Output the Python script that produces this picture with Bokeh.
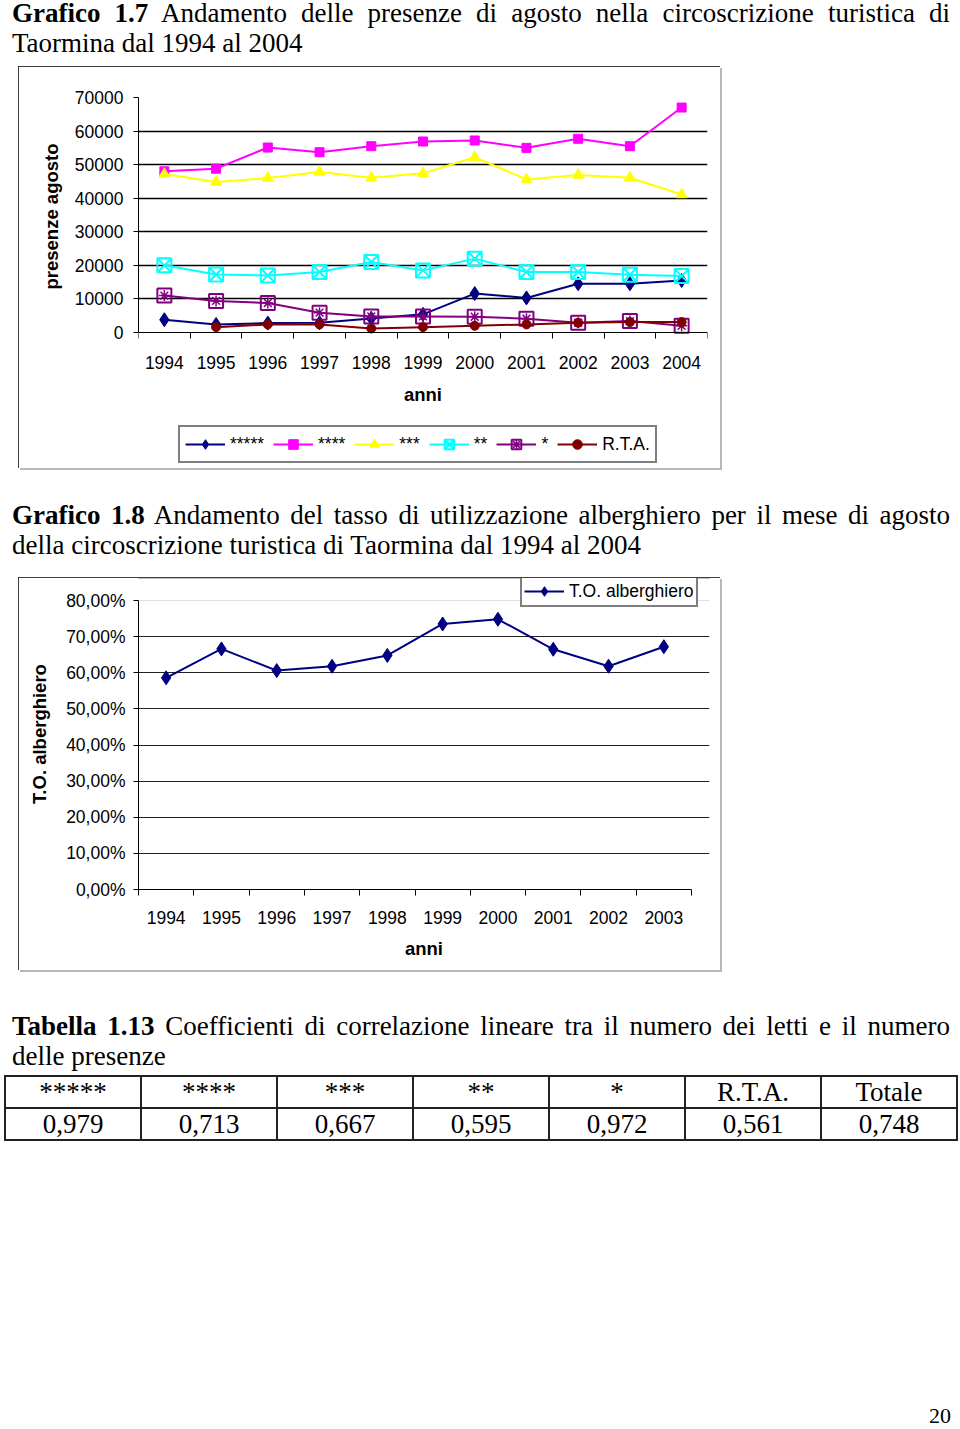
from bokeh.plotting import figure
from bokeh.models import Range1d, FixedTicker, Legend, LegendItem, Grid, Div, Spacer, Title
from bokeh.layouts import column, row
from bokeh.embed import file_html
from bokeh.resources import INLINE

# ---------------- data ----------------
years1 = [1994, 1995, 1996, 1997, 1998, 1999, 2000, 2001, 2002, 2003, 2004]
stelle5 = [3800, 2400, 2800, 2900, 4200, 5400, 11600, 10300, 14500, 14500, 15500]
stelle4 = [48000, 48800, 55100, 53700, 55500, 56900, 57200, 55000, 57700, 55500, 67000]
stelle3 = [47200, 44800, 46000, 47800, 46100, 47400, 52200, 45600, 46900, 46100, 41100]
stelle2 = [20000, 17300, 17000, 18000, 21000, 18500, 22000, 18000, 18000, 17200, 16800]
stelle1 = [11000, 9400, 8800, 5900, 4800, 4800, 4700, 4100, 2900, 3400, 2000]
years_rta = [1995, 1996, 1997, 1998, 1999, 2000, 2001, 2002, 2003, 2004]
rta = [1600, 2400, 2400, 1200, 1600, 2000, 2400, 2900, 3100, 3100]

y1_ticks = [0, 10000, 20000, 30000, 40000, 50000, 60000, 70000]

years2 = [1994, 1995, 1996, 1997, 1998, 1999, 2000, 2001, 2002, 2003]
to_alberghiero = [0.586, 0.666, 0.606, 0.618, 0.648, 0.735, 0.748, 0.665, 0.618, 0.672]
y2_ticks = [0.0, 0.1, 0.2, 0.3, 0.4, 0.5, 0.6, 0.7, 0.8]
y2_labels = ["0,00%", "10,00%", "20,00%", "30,00%", "40,00%", "50,00%", "60,00%", "70,00%", "80,00%"]

table_header = ["*****", "****", "***", "**", "*", "R.T.A.", "Totale"]
table_values = ["0,979", "0,713", "0,667", "0,595", "0,972", "0,561", "0,748"]

SANS = "Liberation Sans"
SERIF = "Liberation Serif"
BOX_STYLE = {"outline": "2px solid #000000", "outline-offset": "-2px",
             "box-shadow": "2px 2px 0px #b8b8b8"}
NAVY, MAG, YEL, CYAN, PURP, DRED = "#000080", "#FF00FF", "#FFFF00", "#00FFFF", "#800080", "#800000"


def style_axes(p, tick_size="17.5px", label_size="18.5px"):
    for ax in (p.xaxis[0], p.yaxis[0]):
        ax.axis_line_color = "black"
        ax.axis_line_width = 1
        ax.major_tick_line_color = "black"
        ax.minor_tick_line_color = "black"
        ax.major_label_text_font = SANS
        ax.major_label_text_font_size = tick_size
        ax.major_label_text_color = "black"
        ax.axis_label_text_font = SANS
        ax.axis_label_text_font_style = "bold"
        ax.axis_label_text_font_size = label_size
        ax.axis_label_text_color = "black"


def style_legend(lg, padding, spacing):
    lg.border_line_color = "black"
    lg.border_line_width = 2
    lg.background_fill_color = "white"
    lg.background_fill_alpha = 1.0
    lg.padding = padding
    lg.spacing = spacing
    lg.label_standoff = 5
    lg.glyph_width = 40
    lg.glyph_height = 24
    lg.label_height = 24
    lg.label_width = 5
    lg.margin = 0
    lg.label_text_font = SANS
    lg.label_text_font_size = "17.5px"
    lg.label_text_color = "black"


def between_ticks(years):
    return [y - 0.5 for y in years] + [years[-1] + 0.5]


# ---------------- chart 1 ----------------
# The frame reaches down to the legend (which lies under the axis in the
# original); the category axis is pinned at y = 0 and the value axis bounded.
frame1_h, plot1_h = 368, 235
p1 = figure(width=702, height=402, x_range=Range1d(years1[0] - 0.5, years1[-1] + 0.5),
            y_range=Range1d(-y1_ticks[-1] * (frame1_h - plot1_h) / plot1_h, y1_ticks[-1]),
            output_backend="svg", toolbar_location=None,
            min_border_left=120, min_border_right=13,
            min_border_top=31, min_border_bottom=402 - 31 - frame1_h)
p1.outline_line_color = None
p1.background_fill_color = "white"
p1.border_fill_color = "white"
p1.styles = BOX_STYLE
p1.xgrid.visible = False
p1.ygrid.ticker = FixedTicker(ticks=y1_ticks[1:-1])
p1.ygrid.grid_line_color = "black"
p1.ygrid.grid_line_width = 1.6
p1.add_layout(Grid(dimension=1, ticker=FixedTicker(ticks=y1_ticks[-1:]),
                   grid_line_color="#dcdcdc", grid_line_width=1.5))
style_axes(p1)
xa = p1.xaxis[0]
xa.fixed_location = y1_ticks[0]
xa.ticker = FixedTicker(ticks=years1, minor_ticks=between_ticks(years1))
xa.major_label_overrides = {y: str(y) for y in years1}
xa.major_tick_out = 0
xa.major_tick_in = 0
xa.minor_tick_out = 6
xa.minor_tick_in = 0
xa.major_label_standoff = 17
xa.axis_label = "anni"
xa.axis_label_standoff = 12
ya = p1.yaxis[0]
ya.ticker = FixedTicker(ticks=y1_ticks)
ya.major_label_overrides = {t: str(t) for t in y1_ticks}
ya.bounds = (y1_ticks[0], y1_ticks[-1])
ya.major_tick_out = 5
ya.major_tick_in = 0
ya.major_label_standoff = 10
p1.add_layout(Title(text="presenze agosto", align="left", offset=176, standoff=19,
                    text_font=SANS, text_font_size="18.5px", text_font_style="bold",
                    text_color="black"), "left")

l5 = p1.line(years1, stelle5, line_color=NAVY, line_width=2)
m5 = p1.scatter(years1, stelle5, marker="diamond", size=14, fill_color=NAVY, line_color=NAVY)
l4 = p1.line(years1, stelle4, line_color=MAG, line_width=2)
m4 = p1.scatter(years1, stelle4, marker="square", size=9, fill_color=MAG, line_color=MAG)
l3 = p1.line(years1, stelle3, line_color=YEL, line_width=2)
m3 = p1.scatter(years1, stelle3, marker="triangle", size=11, fill_color=YEL, line_color=YEL)
l2 = p1.line(years1, stelle2, line_color=CYAN, line_width=2)
m2 = p1.scatter(years1, stelle2, marker="square_x", size=14, fill_color=None,
                line_color=CYAN, line_width=2)
l1 = p1.line(years1, stelle1, line_color=PURP, line_width=2)
m1a = p1.scatter(years1, stelle1, marker="square", size=14, fill_color=None,
                 line_color=PURP, line_width=2)
m1b = p1.scatter(years1, stelle1, marker="asterisk", size=11, line_color=PURP, line_width=1.5)
l0 = p1.line(years_rta, rta, line_color=DRED, line_width=2)
m0 = p1.scatter(years_rta, rta, marker="circle", size=9, fill_color=DRED, line_color=DRED)

leg1 = Legend(items=[
    LegendItem(label="*****", renderers=[l5, m5]),
    LegendItem(label="****", renderers=[l4, m4]),
    LegendItem(label="***", renderers=[l3, m3]),
    LegendItem(label="**", renderers=[l2, m2]),
    LegendItem(label="*", renderers=[l1, m1a, m1b]),
    LegendItem(label="R.T.A.", renderers=[l0, m0]),
], orientation="horizontal", location=(40, 2))
style_legend(leg1, 5, 9)
p1.add_layout(leg1, "center")

# ---------------- chart 2 ----------------
# frame enlarged (up and right) so that the legend box, which overlaps the
# plot area corner in the original, is not clipped; axes keep their bounds.
x2_lo, x2_hi = years2[0] - 0.5, years2[-1] + 0.5
frame2_w, plot2_w = 571, 553
frame2_h, plot2_h = 311, 289
p2 = figure(width=702, height=393,
            x_range=Range1d(x2_lo, x2_lo + (x2_hi - x2_lo) * frame2_w / plot2_w),
            y_range=Range1d(y2_ticks[0], y2_ticks[-1] * frame2_h / plot2_h),
            output_backend="svg", toolbar_location=None,
            min_border_left=120, min_border_right=702 - 120 - frame2_w,
            min_border_top=393 - 81 - frame2_h, min_border_bottom=81)
p2.outline_line_color = None
p2.background_fill_color = "white"
p2.border_fill_color = "white"
p2.styles = BOX_STYLE
p2.xgrid.visible = False
p2.ygrid.ticker = FixedTicker(ticks=y2_ticks[1:-1])
p2.ygrid.grid_line_color = "#222222"
p2.ygrid.grid_line_width = 1
p2.add_layout(Grid(dimension=1, ticker=FixedTicker(ticks=y2_ticks[-1:]),
                   grid_line_color="#e0e0e0", grid_line_width=1))
style_axes(p2)
xb = p2.xaxis[0]
xb.ticker = FixedTicker(ticks=years2, minor_ticks=between_ticks(years2))
xb.major_label_overrides = {y: str(y) for y in years2}
xb.bounds = (x2_lo, x2_hi)
xb.major_tick_out = 0
xb.major_tick_in = 0
xb.minor_tick_out = 6
xb.minor_tick_in = 0
xb.major_label_standoff = 15
xb.axis_label = "anni"
xb.axis_label_standoff = 11
yb = p2.yaxis[0]
yb.ticker = FixedTicker(ticks=y2_ticks)
yb.major_label_overrides = dict(zip(y2_ticks, y2_labels))
yb.bounds = (y2_ticks[0], y2_ticks[-1])
yb.major_tick_out = 5
yb.major_tick_in = 0
yb.major_label_standoff = 8
yb.axis_label = "T.O. alberghiero"
yb.axis_label_standoff = 13

lt = p2.line(years2, to_alberghiero, line_color=NAVY, line_width=2)
mt = p2.scatter(years2, to_alberghiero, marker="diamond", size=14, fill_color=NAVY, line_color=NAVY)
leg2 = Legend(items=[LegendItem(label="T.O. alberghiero", renderers=[lt, mt])],
              orientation="horizontal", location=(382, 282))
style_legend(leg2, 2, 7)
p2.add_layout(leg2, "center")

# ---------------- text blocks ----------------
def line_div(top, left, width, content, justify=False, size=27, lh=30):
    ja = "text-align:justify;text-align-last:justify;" if justify else "text-align:left;"
    return (f'<div style="position:absolute;top:{top}px;left:{left}px;width:{width}px;'
            f'font-family:\'{SERIF}\';font-size:{size}px;line-height:{lh}px;color:#000;'
            f'white-space:nowrap;{ja}">{content}</div>')


def wrap(inner, h):
    return (f'<div style="position:relative;width:960px;height:{h}px;overflow:visible;">'
            f'{inner}</div>')


t1 = wrap(line_div(-2, 12, 938, "<b>Grafico 1.7</b> Andamento delle presenze di agosto nella circoscrizione turistica di", True)
          + line_div(28, 12, 938, "Taormina dal 1994 al 2004"), 66)
t2 = wrap(line_div(32, 12, 938, "<b>Grafico 1.8</b> Andamento del tasso di utilizzazione alberghiero per il mese di agosto", True)
          + line_div(62, 12, 938, "della circoscrizione turistica di Taormina dal 1994 al 2004"), 109)

cell = ("border:2px solid #222;padding:0;height:30px;line-height:30px;text-align:center;"
        "overflow:hidden;white-space:nowrap;")
hdr = "".join(f'<td style="{cell}">{h}</td>' for h in table_header)
vals = "".join(f'<td style="{cell}">{v}</td>' for v in table_values)
table = (f'<table style="position:absolute;top:105px;left:4px;width:954px;border-collapse:collapse;'
         f'table-layout:fixed;font-family:\'{SERIF}\';font-size:27px;color:#000;">'
         f'<tr>{hdr}</tr><tr>{vals}</tr></table>')
t3 = wrap(line_div(41, 12, 938, "<b>Tabella 1.13</b> Coefficienti di correlazione lineare tra il numero dei letti e il numero", True)
          + line_div(71, 12, 938, "delle presenze")
          + table
          + f'<div style="position:absolute;top:434px;left:0px;width:951px;text-align:right;'
            f'font-family:\'{SERIF}\';font-size:22px;line-height:24px;color:#000;">20</div>', 459)

d1 = Div(text=t1, width=960, height=66, margin=0, styles={"overflow": "visible"})
d2 = Div(text=t2, width=960, height=109, margin=0, styles={"overflow": "visible"})
d3 = Div(text=t3, width=960, height=459, margin=0, styles={"overflow": "visible"})

layout = column(
    d1,
    row(Spacer(width=18, height=402), p1, spacing=0),
    d2,
    row(Spacer(width=18, height=393), p2, spacing=0),
    d3,
    spacing=0,
)

open("out.html", "w").write(file_html(layout, INLINE))
